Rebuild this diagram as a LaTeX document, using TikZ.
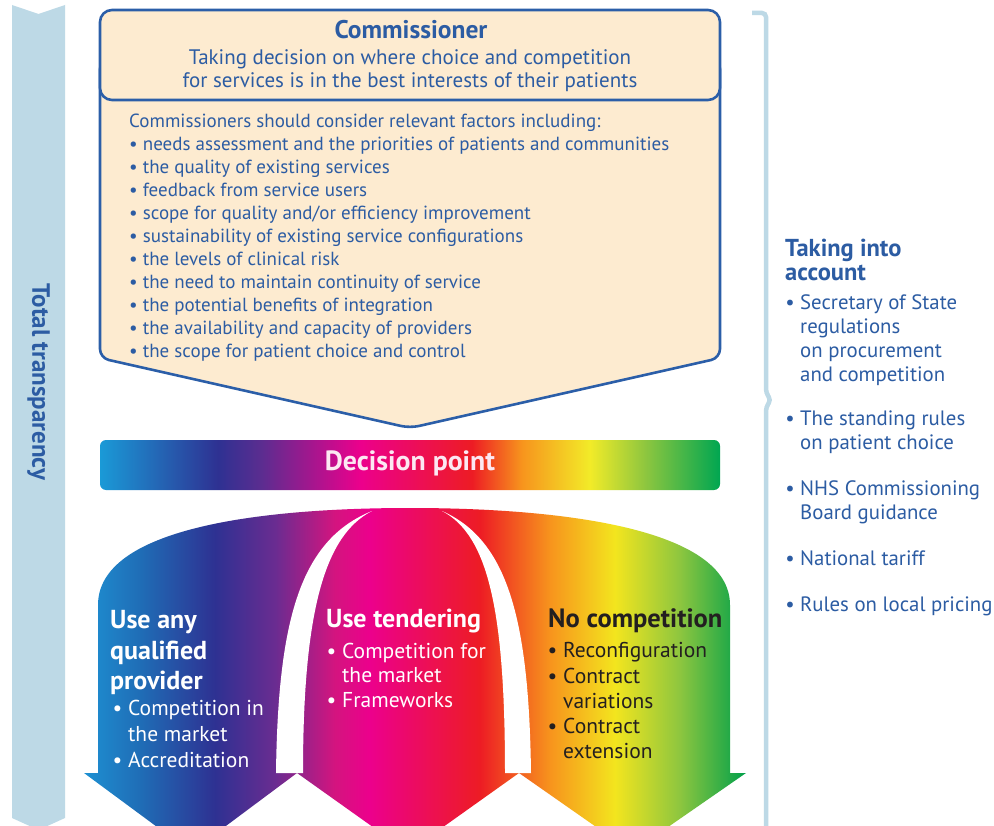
\documentclass[tikz,border=0pt]{standalone}
\usepackage{fontspec}
\setmainfont{PT Sans}

% palette
\definecolor{barblue}{HTML}{BDD9E6}
\definecolor{inkblue}{HTML}{2C5CA3}
\definecolor{edgeblue}{HTML}{2B5EA8}
\definecolor{peach}{HTML}{FDEBD0}
\definecolor{darkink}{HTML}{231F20}
\definecolor{paleink}{HTML}{FCE8F2}

% rainbow for the decision bar (path spans 25bp..75bp of the shading)
\definecolor{dp0}{HTML}{1A9AD7}
\definecolor{dp1}{HTML}{2E3192}
\definecolor{dp2}{HTML}{5B2D90}
\definecolor{dp3}{HTML}{EC008C}
\definecolor{dp4}{HTML}{ED1C24}
\definecolor{dp5}{HTML}{F7941D}
\definecolor{dp6}{HTML}{F2EB28}
\definecolor{dp7}{HTML}{8DC63F}
\definecolor{dp8}{HTML}{00A651}
\pgfdeclarehorizontalshading{decisionbar}{100bp}{color(0bp)=(dp0); color(25bp)=(dp0); color(34.5bp)=(dp1); color(38bp)=(dp2); color(46bp)=(dp3); color(55bp)=(dp4); color(59bp)=(dp5); color(64.5bp)=(dp6); color(69bp)=(dp7); color(75bp)=(dp8); color(100bp)=(dp8)}

% rainbow for the three option arrows
\definecolor{ar0}{HTML}{1E90D2}
\definecolor{ar1}{HTML}{1F6DB6}
\definecolor{ar2}{HTML}{2E3192}
\definecolor{ar3}{HTML}{6A2C91}
\definecolor{ar4}{HTML}{D4147F}
\definecolor{ar5}{HTML}{EC008C}
\definecolor{ar6}{HTML}{ED1C24}
\definecolor{ar7}{HTML}{F7941D}
\definecolor{ar8}{HTML}{F3E51E}
\definecolor{ar9}{HTML}{8DC63F}
\definecolor{ar10}{HTML}{00A04A}
\pgfdeclarehorizontalshading{optionarrows}{100bp}{color(0bp)=(ar0); color(25bp)=(ar0); color(29.25bp)=(ar1); color(34.9bp)=(ar2); color(39.45bp)=(ar3); color(43.95bp)=(ar4); color(46.6bp)=(ar5); color(54.9bp)=(ar6); color(60.2bp)=(ar7); color(65.1bp)=(ar8); color(70bp)=(ar9); color(75bp)=(ar10); color(100bp)=(ar10)}

\begin{document}
\begin{tikzpicture}[x=1pt,y=-1pt,
  txt/.style={inner sep=0pt, align=left, anchor=north west},
  boxedge/.style={draw=edgeblue, line width=2.6pt, fill=peach}]
\useasboundingbox (0,0) rectangle (994,826);
\fill[white] (0,0) rectangle (994,826);

\begin{scope}
\clip (0,0) rectangle (994,826);

% transparency band on the left
\fill[barblue] (12,5) -- (38.5,14) -- (65,5) -- (65,818) -- (38.5,830) -- (12,818) -- cycle;

% brace on the right
\draw[barblue, line width=4.5pt, rounded corners=4pt] (752,13) -- (766,13) -- (766,393) -- (771,400) -- (766,407) -- (766,840);

% commissioner box: chevron body and header
\draw[boxedge, rounded corners=9pt] (100,60) -- (100,358) -- (410,428) -- (720,358) -- (720,60) -- cycle;
\draw[boxedge, rounded corners=12pt] (100,10) rectangle (720,100);

% decision bar
\shade[shading=decisionbar, rounded corners=6pt] (100,440) rectangle (720,490);

% the three option arrows under one arch
\shade[shading=optionarrows] (84,773) -- (98,773) -- (98,605)
  .. controls (98,528) and (260,508) .. (410,508)
  .. controls (560,508) and (730,528) .. (730,605)
  -- (730,773) -- (746,773) -- (632,852) -- (519,773) -- (408,852)
  -- (297,773) -- (191,852) -- cycle;
% white gaps around the middle arrow
\fill[white] (276,773) .. controls (278,620) and (300,540) .. (372,511)
  .. controls (325,535) and (303,610) .. (303,773) -- cycle;
\fill[white] (531,773) .. controls (529,620) and (508,540) .. (442,511)
  .. controls (488,535) and (505,610) .. (505,773) -- cycle;
\end{scope}

% texts
\node[rotate=-90, font=\bfseries\fontsize{25}{25}\selectfont, text=inkblue] (transp) at (38.5,382) {Total transparency};

\node[font=\bfseries\fontsize{25.5}{25.5}\selectfont, text=inkblue] (commtitle) at (411,30) {Commissioner};
\node[font=\fontsize{21}{23}\selectfont, text=inkblue, align=center, inner sep=0pt] (commsub) at (410,70.5) {Taking decision on where choice and competition\\for services is in the best interests of their patients};

\node[txt, text=inkblue, font=\fontsize{19}{23}\selectfont] (factors) at (129,114) {Commissioners should consider relevant factors including:\\
• needs assessment and the priorities of patients and communities\\
• the quality of existing services\\
• feedback from service users\\
• scope for quality and/or efficiency improvement\\
• sustainability of existing service configurations\\
• the levels of clinical risk\\
• the need to maintain continuity of service\\
• the potential benefits of integration\\
• the availability and capacity of providers\\
• the scope for patient choice and control};

\node[font=\bfseries\fontsize{27.8}{27.8}\selectfont, text=paleink] (decision) at (410,463) {Decision point};

\node[txt, text=white, font=\bfseries\fontsize{26}{30.5}\selectfont] (aqptitle) at (110,610.5) {Use any\\qualified\\provider};
\node[txt, text=white, font=\fontsize{21.5}{26}\selectfont] (aqplist) at (128,699.5) {\llap{• }Competition in\\the market\\\llap{• }Accreditation};

\node[txt, text=white, font=\bfseries\fontsize{26}{30.5}\selectfont] (tendertitle) at (326,608.5) {Use tendering};
\node[txt, text=white, font=\fontsize{21.5}{24.5}\selectfont] (tenderlist) at (342,642.5) {\llap{• }Competition for\\the market\\\llap{• }Frameworks};

\node[txt, text=darkink, font=\bfseries\fontsize{26.5}{30.5}\selectfont] (nonetitle) at (548,608.5) {No competition};
\node[txt, text=darkink, font=\fontsize{21.5}{25.2}\selectfont] (nonelist) at (563,642.5) {\llap{• }Reconfiguration\\\llap{• }Contract\\variations\\\llap{• }Contract\\extension};

\node[txt, text=inkblue, font=\bfseries\fontsize{24.5}{24}\selectfont] (accounttitle) at (785,239) {Taking into\\account};
\node[txt, text=inkblue, font=\fontsize{20.8}{24}\selectfont] (accountlist) at (800,294.5) {\llap{• }Secretary of State\\regulations\\on procurement\\and competition\\[20pt]
\llap{• }The standing rules\\on patient choice\\[22pt]
\llap{• }NHS Commissioning\\Board guidance\\[22pt]
\llap{• }National tariff\\[22pt]
\llap{• }Rules on local pricing};
\end{tikzpicture}
\end{document}
